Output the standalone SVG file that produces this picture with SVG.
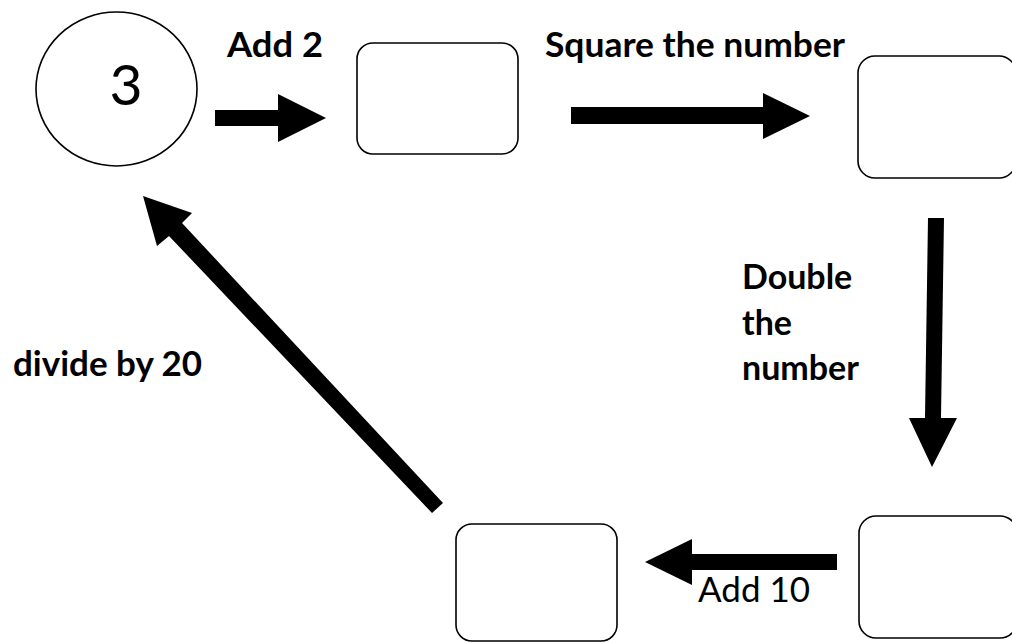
<svg xmlns="http://www.w3.org/2000/svg" width="1012" height="643" viewBox="0 0 1012 643">
  <style>
    .box { fill: #fff; stroke: #000; stroke-width: 1.6; }
    .arrow { fill: #000; stroke: none; }
    .lbl { font-family: "Lato", "Open Sans", sans-serif; fill: #000; }
    .b { font-weight: bold; }
  </style>
  <rect width="1012" height="643" fill="#fff"/>

  <!-- connectors -->
  <g id="connectors">
    <polygon class="arrow" points="215,110 278,110 278,94 326,118 278,142 278,126 215,126"/>
    <polygon class="arrow" points="571,107 763,107 763,93 810,116 763,139 763,124 571,124"/>
    <polygon class="arrow" points="928,218 944,218 941,418 957,418 932,467 909,418 925,418"/>
    <polygon class="arrow" points="837,554 692,554 692,539 645,562 692,585 692,570 837,570"/>
    <polygon class="arrow" points="443,503 182,223 192,213 143,196 157,246 169,236 432,513"/>
  </g>

  <!-- nodes -->
  <g id="start">
    <ellipse class="box" cx="116.5" cy="89" rx="80.5" ry="77"/>
    <text class="lbl" x="126" y="105" font-size="57" text-anchor="middle">3</text>
  </g>
  <g id="box-add2">
    <rect class="box" x="357" y="43" width="161" height="111" rx="16"/>
  </g>
  <g id="box-square">
    <rect class="box" x="858" y="56" width="158" height="122" rx="17"/>
  </g>
  <g id="box-double">
    <rect class="box" x="859" y="516" width="158" height="122" rx="17"/>
  </g>
  <g id="box-add10">
    <rect class="box" x="456" y="524" width="161" height="117" rx="16"/>
  </g>

  <!-- labels -->
  <g id="labels">
    <text class="lbl b" x="227" y="57" font-size="35" textLength="96" lengthAdjust="spacingAndGlyphs">Add 2</text>
    <text class="lbl b" x="545" y="57" font-size="35" textLength="300" lengthAdjust="spacingAndGlyphs">Square the number</text>
    <text class="lbl b" font-size="34">
      <tspan x="742" y="289">Double</tspan>
      <tspan x="742" y="335">the</tspan>
      <tspan x="742" y="380">number</tspan>
    </text>
    <text class="lbl" x="698" y="602" font-size="34" textLength="112" lengthAdjust="spacingAndGlyphs">Add 10</text>
    <text class="lbl b" x="13" y="376" font-size="35" textLength="189" lengthAdjust="spacingAndGlyphs">divide by 20</text>
  </g>
</svg>
